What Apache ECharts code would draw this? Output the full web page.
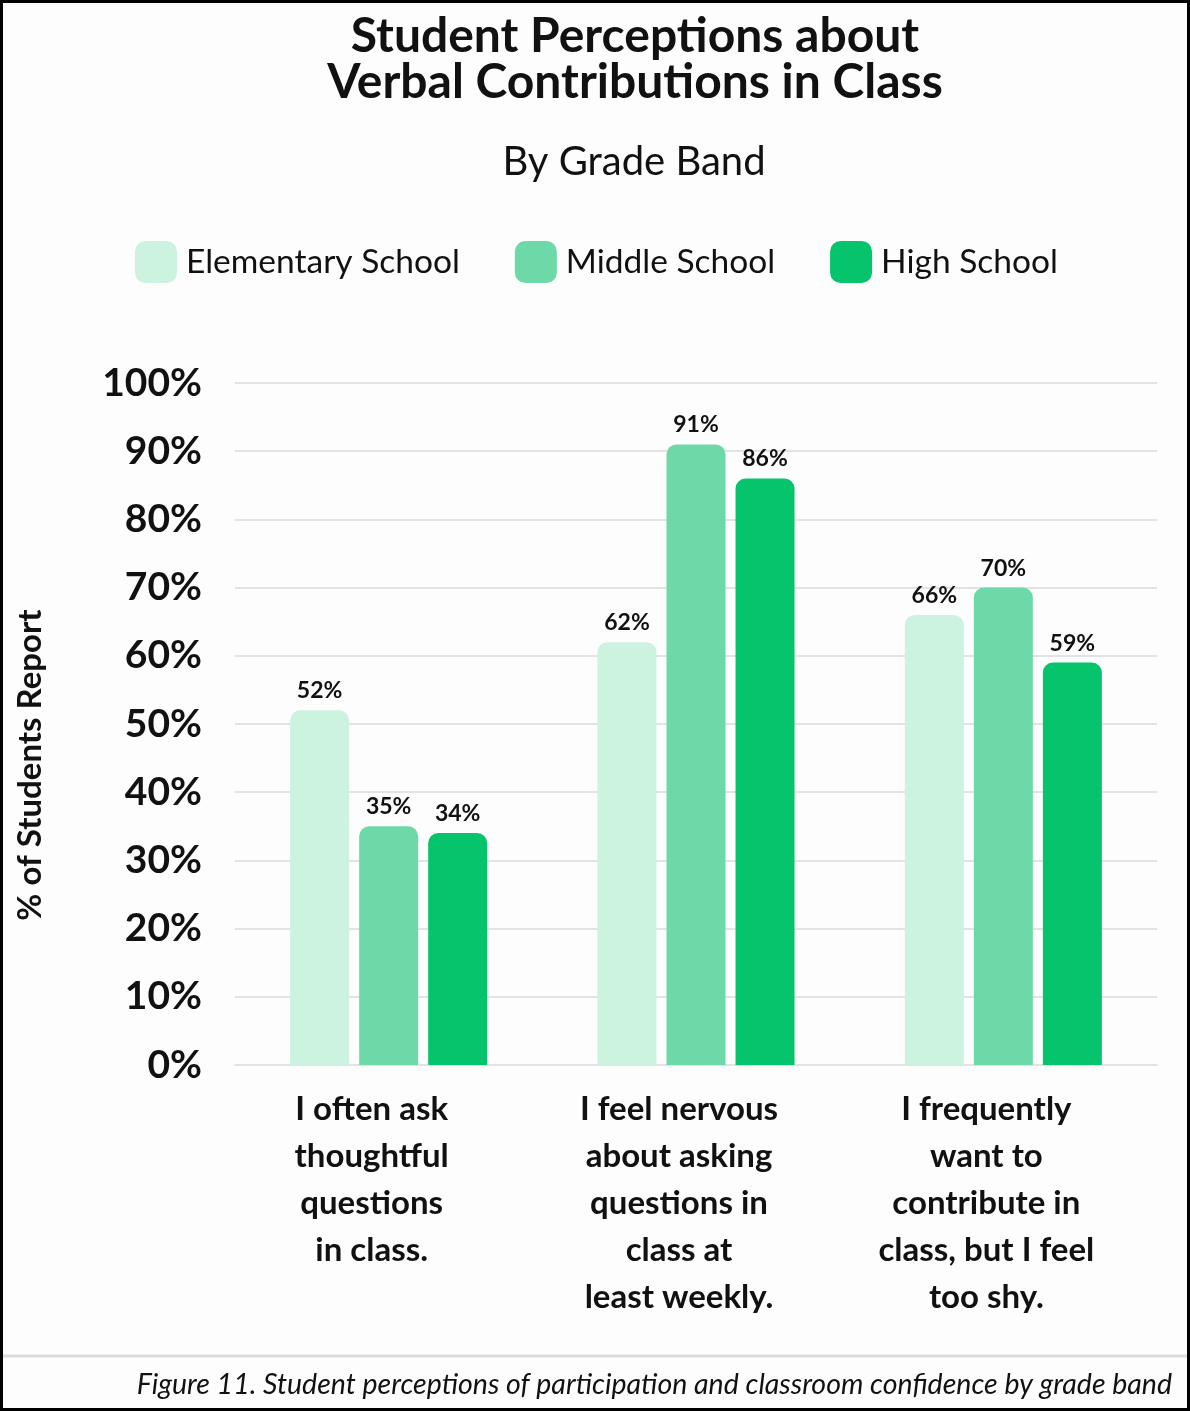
<!DOCTYPE html>
<html>
<head>
<meta charset="utf-8">
<script src="https://cdn.jsdelivr.net/npm/echarts@6/dist/echarts.min.js"></script>
<style>
  html, body { margin: 0; padding: 0; background: #fff; }
  #chart { width: 1190px; height: 1411px; }
</style>
</head>
<body>
<div id="chart"></div>
<script>
// Data
var categories = [
    'I often ask\nthoughtful\nquestions\nin class.',
    'I feel nervous\nabout asking\nquestions in\nclass at\nleast weekly.',
    'I frequently\nwant to\ncontribute in\nclass, but I feel\ntoo shy.'
];
var seriesNames = ['Elementary School', 'Middle School', 'High School'];
var elementaryValues = [52, 62, 66];
var middleValues = [35, 91, 70];
var highValues = [34, 86, 59];
var seriesColors = ['#ccf2e0', '#6dd9a8', '#05c46b'];

var font = 'Lato, "Open Sans", sans-serif';
var chart = echarts.init(document.getElementById('chart'));

function barSeries(idx, data) {
    return {
        name: seriesNames[idx],
        type: 'bar',
        data: data,
        barWidth: 59,
        barGap: '17%',
        itemStyle: {
            color: seriesColors[idx],
            borderRadius: [10, 10, 0, 0]
        },
        label: {
            show: true,
            position: 'top',
            distance: 8,
            formatter: '{c}%',
            color: '#111',
            fontFamily: font,
            fontWeight: 'bold',
            fontSize: 23
        }
    };
}

chart.setOption({
    backgroundColor: '#fdfdfd',
    animation: false,
    legend: {
        data: seriesNames,
        top: 236,
        left: 130,
        icon: 'roundRect',
        itemWidth: 42,
        itemHeight: 42,
        itemGap: 55,
        textStyle: {
            fontFamily: font,
            fontSize: 33.5,
            color: '#111',
            padding: [0, 0, 0, 4]
        }
    },
    grid: {
        left: 235,
        right: 33,
        top: 383,
        bottom: 346
    },
    xAxis: {
        type: 'category',
        data: categories,
        axisLine: { lineStyle: { color: '#e3e3e3', width: 2 } },
        axisTick: { show: false },
        axisLabel: {
            margin: 21,
            fontFamily: font,
            fontWeight: 'bold',
            fontSize: 33,
            lineHeight: 47,
            color: '#111',
            align: 'center',
            verticalAlign: 'top',
            padding: [0, 34, 0, 0]
        }
    },
    yAxis: {
        type: 'value',
        min: 0,
        max: 100,
        interval: 10,
        axisLine: { show: false },
        axisTick: { show: false },
        splitLine: { lineStyle: { color: '#e3e3e3', width: 2 } },
        axisLabel: {
            formatter: '{value}%',
            margin: 33,
            fontFamily: font,
            fontWeight: 'bold',
            fontSize: 39,
            color: '#111'
        }
    },
    graphic: [
        {
            type: 'text',
            x: 635,
            y: 60,
            style: {
                text: 'Student Perceptions about\nVerbal Contributions in Class',
                fontFamily: font,
                fontWeight: 'bold',
                fontSize: 48,
                lineHeight: 46,
                fill: '#111',
                align: 'center',
                verticalAlign: 'middle'
            }
        },
        {
            type: 'text',
            x: 634,
            y: 162,
            style: {
                text: 'By Grade Band',
                fontFamily: font,
                fontSize: 40,
                fill: '#111',
                align: 'center',
                verticalAlign: 'middle'
            }
        },
        {
            type: 'text',
            x: 30,
            y: 765,
            rotation: Math.PI / 2,
            style: {
                text: '% of Students Report',
                fontFamily: font,
                fontWeight: 'bold',
                fontSize: 33,
                fill: '#111',
                align: 'center',
                verticalAlign: 'middle'
            }
        },
        {
            type: 'line',
            shape: { x1: 2, y1: 1356, x2: 1188, y2: 1356 },
            style: { stroke: '#dcdcdc', lineWidth: 3 }
        },
        {
            type: 'text',
            x: 1172,
            y: 1385,
            style: {
                text: 'Figure 11. Student perceptions of participation and classroom confidence by grade band',
                fontFamily: font,
                fontStyle: 'italic',
                fontSize: 28.5,
                fill: '#111',
                align: 'right',
                verticalAlign: 'middle'
            }
        },
        {
            type: 'rect',
            shape: { x: 1.5, y: 1.5, width: 1187, height: 1408 },
            style: { fill: 'none', stroke: '#000', lineWidth: 3 },
            z: 100
        }
    ],
    series: [
        barSeries(0, elementaryValues),
        barSeries(1, middleValues),
        barSeries(2, highValues)
    ]
});
</script>
</body>
</html>
